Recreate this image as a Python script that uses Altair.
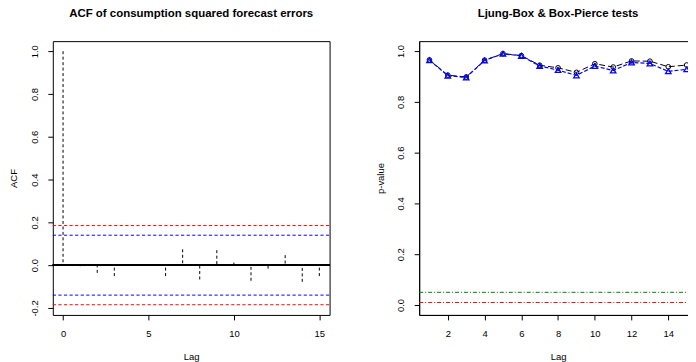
import altair as alt
import pandas as pd

# ---------------- data ----------------
acf_lags = list(range(16))
acf_values = [1.0, -0.005, -0.036, -0.051, 0.003, 0.003, -0.051, 0.074,
              -0.067, 0.070, 0.012, -0.073, -0.016, 0.047, -0.078, -0.051]
ci_levels = [0.185, 0.14, -0.14, -0.185]
ci_colors = ["#ff0000", "#0000ff", "#0000ff", "#ff0000"]

test_lags = list(range(1, 16))
box_pierce_p = [0.965, 0.905, 0.898, 0.964, 0.990, 0.982, 0.944, 0.934,
                0.916, 0.950, 0.937, 0.961, 0.960, 0.938, 0.945]
ljung_box_p = [0.964, 0.903, 0.896, 0.963, 0.989, 0.981, 0.941, 0.925,
               0.904, 0.941, 0.923, 0.955, 0.951, 0.920, 0.928]
sig_levels = [0.05, 0.01]
sig_colors = ["#008000", "#ff0000"]

acf_ticks_x = [0, 5, 10, 15]
acf_ticks_y = [-0.2, 0.0, 0.2, 0.4, 0.6, 0.8, 1.0]
p_ticks_x = [2, 4, 6, 8, 10, 12, 14]
p_ticks_y = [0.0, 0.2, 0.4, 0.6, 0.8, 1.0]

FONT = "Liberation Sans"
LW, LH = 278, 275
RW, RH = 279, 275

acf_df = pd.DataFrame({"lag": acf_lags, "acf": acf_values, "base": [0.0] * len(acf_lags)})
p_df = pd.DataFrame({"lag": test_lags, "bp": box_pierce_p, "lb": ljung_box_p})

LBL = "replace(format(datum.value, '.1f'), '\u2212', '-')"


def yaxis(values, title, h, domain):
    return alt.Axis(values=values, labelExpr=LBL, labelAngle=270, labelAlign="center",
                    labelBaseline="bottom", labelPadding=8.5, tickSize=5, tickColor="black",
                    labelColor="black", labelFont=FONT, labelFontSize=9.5, grid=False,
                    domain=domain, domainColor="black", title=title, titleX=-39, titleY=h / 2,
                    titleAngle=270, titleAlign="center", titleBaseline="middle", titleFont=FONT,
                    titleFontSize=9.5, titleFontWeight="normal", titleColor="black")


def xaxis(values, domain):
    return alt.Axis(values=values, format="d", labelAngle=0, labelPadding=9, tickSize=5,
                    tickColor="black", labelColor="black", labelFont=FONT, labelFontSize=9.5,
                    grid=False, domain=domain, domainColor="black", title="Lag",
                    titlePadding=13, titleFont=FONT, titleFontSize=9.5,
                    titleFontWeight="normal", titleColor="black")


def ttl(text):
    return alt.TitleParams(text=text, font=FONT, fontSize=11.5, fontWeight="bold", color="black",
                           anchor="middle", baseline="alphabetic", offset=12.5, frame="group")


def hline(level, color, dash, yscale, width):
    return alt.Chart(pd.DataFrame({"level": [level]})).mark_rule(
        color=color, strokeWidth=1, strokeDash=dash).encode(
        y=alt.Y("level:Q", scale=yscale), x=alt.value(0), x2=alt.value(width))


# ---------------- left panel: ACF ----------------
ly_scale = alt.Scale(domain=[-0.2326, 1.047], nice=False, zero=False)
lx = alt.X("lag:Q", scale=alt.Scale(domain=[-0.6, 15.6], nice=False, zero=False),
           axis=xaxis(acf_ticks_x, False))
ly = alt.Y("acf:Q", scale=ly_scale, axis=yaxis(acf_ticks_y, "ACF", LH, False))

bars = alt.Chart(acf_df).mark_rule(color="black", strokeWidth=1, strokeDash=[3, 2.5]).encode(
    x=lx, y=ly, y2="base:Q")
zero = alt.Chart(acf_df).mark_rule(color="black", strokeWidth=1).encode(
    y=alt.datum(0), x=alt.value(0), x2=alt.value(LW))
ci_layers = [hline(lv, c, [3.2, 2.4], ly_scale, LW) for lv, c in zip(ci_levels, ci_colors)]

left = alt.layer(bars, *ci_layers, zero).properties(
    width=LW, height=LH, title=ttl("ACF of consumption squared forecast errors"),
    view=alt.ViewBackground(stroke="black", strokeWidth=1))

# ---------------- right panel: p-values ----------------
ry_scale = alt.Scale(domain=[-0.039, 1.039], nice=False, zero=False)
rx = alt.X("lag:Q", scale=alt.Scale(domain=[0.44, 15.56], nice=False, zero=False),
           axis=xaxis(p_ticks_x, True))
ry_axis = yaxis(p_ticks_y, "p-value", RH, True)

bp_line = alt.Chart(p_df).mark_line(color="black", strokeWidth=1, strokeDash=[6, 3]).encode(
    x=rx, y=alt.Y("bp:Q", scale=ry_scale, axis=ry_axis))
bp_pts = alt.Chart(p_df).mark_point(shape="circle", filled=False, size=22, color="black",
                                    strokeWidth=1, opacity=1).encode(
    x=rx, y=alt.Y("bp:Q", scale=ry_scale))
lb_line = alt.Chart(p_df).mark_line(color="blue", strokeWidth=1.2, strokeDash=[4, 2]).encode(
    x=rx, y=alt.Y("lb:Q", scale=ry_scale))
lb_pts = alt.Chart(p_df).mark_point(shape="triangle-up", filled=False, size=30, color="blue",
                                    strokeWidth=1.3, opacity=1).encode(
    x=rx, y=alt.Y("lb:Q", scale=ry_scale))
sig_layers = [hline(lv, c, [4, 2, 1, 2], ry_scale, RW) for lv, c in zip(sig_levels, sig_colors)]

right = alt.layer(bp_line, bp_pts, lb_line, lb_pts, *sig_layers).properties(
    width=RW, height=RH, title=ttl("Ljung-Box & Box-Pierce tests"),
    view=alt.ViewBackground(stroke="black", strokeWidth=1))

# the right-hand frame runs past the window edge, as in the reference: trim it off
chart = alt.hconcat(left, right, spacing=44).properties(
    padding={"top": -1.5, "left": 0, "right": -10, "bottom": 0}, background="white"
).configure_axis(labelOverlap=False)

chart.save("out.html", embed_options={"renderer": "svg", "actions": False})
